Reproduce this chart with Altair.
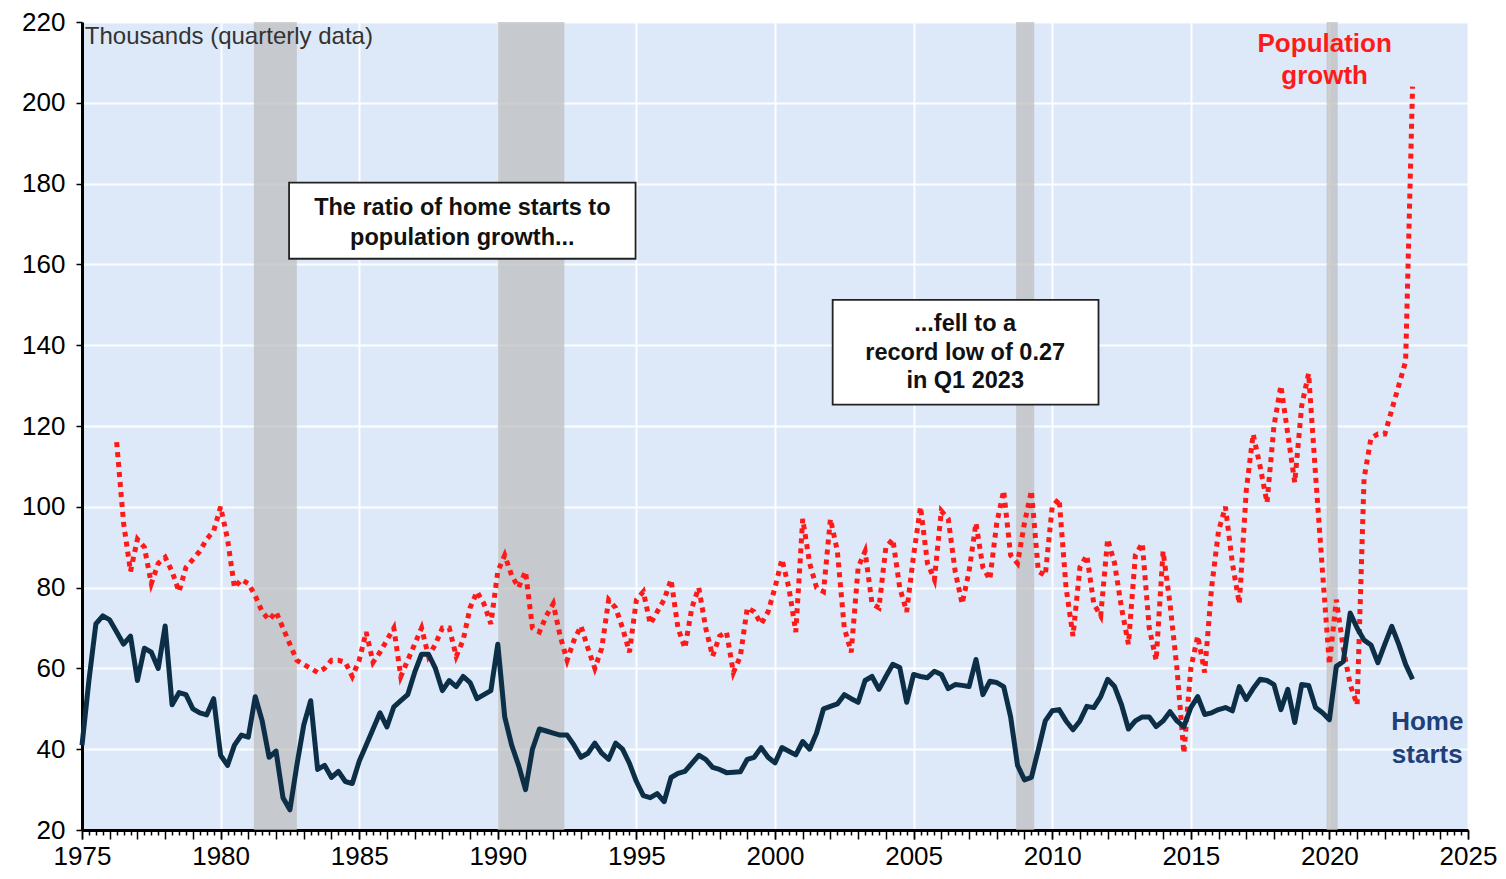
import altair as alt
import pandas as pd

# ---------------- data (thousands, quarterly) ----------------
# Home starts, 1975Q1 .. 2023Q1
home_starts = [
    41, 57, 71, 73,        # 1975
    72, 69, 66, 68,        # 1976
    57, 65, 64, 60,        # 1977
    70.5, 51, 54, 53.5,    # 1978
    50, 49, 48.5, 52.5,    # 1979
    38.5, 36, 41, 43.5,    # 1980
    43, 53, 47, 38,        # 1981
    39.5, 28, 25, 36,      # 1982
    46, 52, 35, 36,        # 1983
    33, 34.5, 32, 31.5,    # 1984
    37, 41, 45, 49,        # 1985
    45.5, 50.5, 52, 53.5,  # 1986
    59, 63.5, 63.5, 60,    # 1987
    54.5, 57, 55.5, 58,    # 1988
    56.5, 52.5, 53.5, 54.5,  # 1989
    66, 48, 41, 36,        # 1990
    30, 40, 45, 44.5,      # 1991
    44, 43.5, 43.5, 41,    # 1992
    38, 39, 41.5, 39,      # 1993
    37.5, 41.5, 40, 36.5,  # 1994
    32, 28.5, 28, 29,      # 1995
    27, 33, 34, 34.5,      # 1996
    36.5, 38.5, 37.5, 35.5,  # 1997
    35, 34.2, 34.3, 34.4,  # 1998
    37.5, 38, 40.4, 38,    # 1999
    36.6, 40.4, 39.5, 38.6,  # 2000
    41.9, 40, 44, 50,      # 2001
    50.6, 51.2, 53.5, 52.5,  # 2002
    51.6, 57, 58, 54.8,    # 2003
    58, 61, 60.2, 51.6,    # 2004
    58.5, 58, 57.7, 59.3,  # 2005
    58.5, 55, 56, 55.8,    # 2006
    55.5, 62.2, 53.5, 56.8,  # 2007
    56.5, 55.5, 48, 36,    # 2008
    32.4, 33, 39.9, 47,    # 2009
    49.5, 49.8, 47, 44.8,  # 2010
    47, 50.6, 50.3, 53,    # 2011
    57.3, 55.5, 51, 45,    # 2012
    47, 48, 48, 45.6,      # 2013
    47, 49.3, 47, 45.6,    # 2014
    50.3, 53, 48.6, 49,    # 2015
    49.8, 50.3, 49.5, 55.5,  # 2016
    52.3, 55, 57.3, 57,    # 2017
    56, 49.8, 54.8, 46.6,  # 2018
    56, 55.8, 50.3, 49,    # 2019
    47.3, 60.5, 61.7, 73.7,  # 2020
    70, 67, 65.8, 61.4,    # 2021
    66, 70.4, 66, 61,      # 2022
    57.3,                  # 2023Q1
]

# Population growth, 1976Q2 .. 2023Q1
population_growth = [
    116, 96, 84,           # 1976
    92, 90, 81, 86,        # 1977
    87.5, 84, 79, 85,      # 1978
    87, 89, 92, 94,        # 1979
    100, 92, 80, 82,       # 1980
    81, 78, 74, 72,        # 1981
    74, 70, 66, 62,        # 1982
    61, 60, 59, 60,        # 1983
    62, 62, 61.5, 58,      # 1984
    62, 69, 61.5, 64,      # 1985
    67, 70, 58, 62,        # 1986
    66, 70, 63, 66,        # 1987
    70, 70, 63, 67,        # 1988
    75, 79, 76, 71,        # 1989
    84, 88, 83, 80,        # 1990
    84, 70, 69, 73,        # 1991
    76, 68, 62, 67,        # 1992
    70.5, 65, 60, 65,      # 1993
    77, 75, 70, 64,        # 1994
    77, 79, 71, 74,        # 1995
    77, 82, 70, 65,        # 1996
    75, 80, 70, 63,        # 1997
    68, 69, 59, 63,        # 1998
    75, 74, 71, 74,        # 1999
    80, 87, 80, 69,        # 2000
    97, 86, 80, 79,        # 2001
    97, 89, 70, 64,        # 2002
    85, 89, 76, 75,        # 2003
    90, 92, 80, 74,        # 2004
    88, 100, 86, 82,       # 2005
    99, 97, 84, 76,        # 2006
    84, 96, 85, 82,        # 2007
    96, 104, 88, 86,       # 2008
    96, 104, 84, 83,       # 2009
    100, 102, 80, 68,      # 2010
    85, 88, 76, 73,        # 2011
    92, 86, 75, 66,        # 2012
    88, 91, 70, 62,        # 2013
    89, 76, 60, 39,        # 2014
    60, 68, 59, 80,        # 2015
    94, 100, 86, 76,       # 2016
    104, 118, 110, 101,    # 2017
    120, 130, 118, 106,    # 2018
    125, 133, 108, 84,     # 2019
    61, 77, 65, 56,        # 2020
    51, 107, 117, 118,     # 2021
    118, 124, 130, 136,    # 2022
    204,                   # 2023Q1
]

# Recession periods (shaded)
recession_start = [1981.2, 1990.0, 2008.7, 2019.9]
recession_end = [1982.75, 1992.4, 2009.35, 2020.3]

first_year = 1975
pop_first_quarter = 5  # 1976Q2

df_hs = pd.DataFrame({
    "t": [first_year + i / 4 for i in range(len(home_starts))],
    "v": home_starts,
})
df_pop = pd.DataFrame({
    "t": [first_year + (pop_first_quarter + i) / 4 for i in range(len(population_growth))],
    "v": population_growth,
})
df_rec = pd.DataFrame({"start": recession_start, "end": recession_end})

FONT = "Liberation Sans"
major_ticks = list(range(1975, 2026, 5))
minor_ticks = [1975 + i / 4 for i in range(201)]

xscale = alt.Scale(domain=[1975, 2025], nice=False, zero=False)
yscale = alt.Scale(domain=[20, 220], nice=False, zero=False)

x_axis_major = alt.Axis(
    orient="bottom",
    values=major_ticks,
    format="d",
    labelOverlap=False,
    labelBound=False,
    labelFlush=False,
    labelFont=FONT,
    labelFontSize=26,
    labelColor="black",
    labelPadding=4,
    tickColor="black",
    tickWidth=1.5,
    tickSize=9,
    domainColor="black",
    domainWidth=3,
    grid=True,
    gridColor="white",
    gridWidth=2,
    gridOpacity=0.9,
    title=None,
)
x_axis_minor = alt.Axis(
    orient="bottom",
    values=minor_ticks,
    labels=False,
    domain=False,
    grid=False,
    tickColor="black",
    tickWidth=1.5,
    tickSize={"condition": {"test": "datum.value % 1 == 0", "value": 9}, "value": 5},
    title=None,
)
y_axis = alt.Axis(
    values=list(range(20, 221, 20)),
    labelFont=FONT,
    labelFontSize=26,
    labelColor="black",
    labelPadding=11,
    tickColor="black",
    tickWidth=1.5,
    tickSize=6,
    domainColor="black",
    domainWidth=3,
    grid=True,
    gridColor="white",
    gridWidth=2,
    gridOpacity=0.9,
    title=None,
)

rec = alt.Chart(df_rec).mark_rect(color="#bcbcbc", opacity=0.72).encode(
    x=alt.X("start:Q", scale=xscale, axis=None),
    x2="end:Q",
)

pop_line = alt.Chart(df_pop).mark_line(
    color="#ff1a1a", strokeWidth=5, strokeDash=[5, 5], strokeCap="butt"
).encode(
    x=alt.X("t:Q", scale=xscale, axis=x_axis_minor),
    y=alt.Y("v:Q", scale=yscale, axis=y_axis),
)

hs_line = alt.Chart(df_hs).mark_line(
    color="#0c2f47", strokeWidth=5, strokeJoin="round"
).encode(
    x=alt.X("t:Q", scale=xscale, axis=x_axis_major),
    y=alt.Y("v:Q", scale=yscale, axis=y_axis),
)


def box(x1, x2, y1, y2):
    return alt.Chart().mark_rect(fill="white", stroke="#222222", strokeWidth=1.8).encode(
        x=alt.X(datum=x1, axis=None), x2=alt.X2(datum=x2),
        y=alt.datum(y1), y2=alt.datum(y2),
    )


def label(text, x, y, **kw):
    return alt.Chart().mark_text(text=text, font=FONT, baseline="middle", **kw).encode(
        x=alt.X(datum=x, axis=None),
        y=alt.datum(y),
    )


box1 = box(1982.47, 1994.97, 180.25, 161.4)
box2 = box(2002.08, 2011.67, 151.2, 125.3)

txt1 = label(["The ratio of home starts to", "population growth..."], 1988.72, 174.0,
             fontSize=23.5, fontWeight="bold", color="#111111", align="center", lineHeight=30)
txt2 = label(["...fell to a", "record low of 0.27", "in Q1 2023"], 2006.86, 145.2,
             fontSize=23.5, fontWeight="bold", color="#111111", align="center", lineHeight=28.5)
txt_units = label("Thousands (quarterly data)", 1975.1, 216.3,
                  fontSize=24, color="#333333", align="left")
txt_pop = label(["Population", "growth"], 2019.83, 214.5,
                fontSize=26, fontWeight="bold", color="#ff1a1a", align="center", lineHeight=32)
txt_hs = label(["Home", "starts"], 2023.53, 46.8,
               fontSize=26, fontWeight="bold", color="#1f3f78", align="center", lineHeight=33)

chart = alt.layer(
    rec, pop_line, hs_line, box1, box2, txt1, txt2, txt_units, txt_pop, txt_hs
).resolve_axis(
    x="independent"
).properties(
    width=1386,
    height=808,
    autosize="none",
    padding={"left": 74, "top": 14, "right": 30, "bottom": 41},
    background="white",
).configure_view(
    fill="#dde9f8",
    strokeWidth=0,
)

chart.save("out.html", embed_options={"renderer": "svg", "actions": False})
